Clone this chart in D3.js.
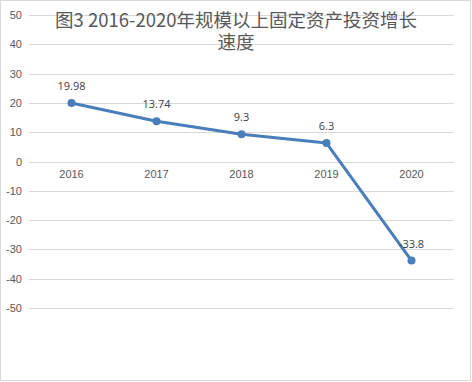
<!DOCTYPE html>
<html lang="zh">
<head>
<meta charset="UTF-8">
<title>图3 2016-2020年规模以上固定资产投资增长速度</title>
<style>
  body { margin: 0; padding: 0; background: #fff; }
  svg { display: block; font-family: "Open Sans", "Liberation Sans", Arial, sans-serif; }
  .grid line { stroke: #d9d9d9; stroke-width: 1; }
  .tick text { fill: #595959; font-size: 11px; }
  .label { fill: #404040; font-size: 11px; }
</style>
<script src="https://d3js.org/d3.v7.min.js"></script>
</head>
<body>
<div id="chart"></div>
<script>
const years = ["2016", "2017", "2018", "2019", "2020"];
const growth = [19.98, 13.74, 9.3, 6.3, -33.8];
const yTicks = [50, 40, 30, 20, 10, 0, -10, -20, -30, -40, -50];
const titleLines = ["图3 2016-2020年规模以上固定资产投资增长", "速度"];

const width = 472, height = 382;
const svg = d3.select("#chart").append("svg")
  .attr("width", width).attr("height", height);

// chart area border
svg.append("rect")
  .attr("x", 0.5).attr("y", 0.5)
  .attr("width", width - 2).attr("height", height - 2)
  .attr("fill", "#fff").attr("stroke", "#d9d9d9");

const x = d3.scaleBand().domain(years).range([29, 454]);
const y = d3.scaleLinear().domain([-50, 50]).range([308, 15]);

// gridlines
const grid = svg.append("g").attr("class", "grid");
grid.selectAll("line").data(yTicks).join("line")
  .attr("x1", 29).attr("x2", 454)
  .attr("y1", d => Math.round(y(d)) + 0.5)
  .attr("y2", d => Math.round(y(d)) + 0.5);

// y axis labels, plain hyphen for negatives like the original
const yAxis = svg.append("g")
  .attr("transform", "translate(29,0)")
  .call(d3.axisLeft(y).tickValues(yTicks).tickSize(0).tickPadding(7)
    .tickFormat(d => String(d)));
yAxis.select(".domain").remove();

// x axis labels (below the zero line)
const xAxis = svg.append("g")
  .attr("transform", `translate(0,${y(0) + 9})`)
  .call(d3.axisBottom(x).tickSize(0).tickPadding(0));
xAxis.select(".domain").remove();

// line
const line = d3.line()
  .x((d, i) => x(years[i]) + x.bandwidth() / 2)
  .y(d => y(d));
svg.append("path")
  .datum(growth)
  .attr("fill", "none")
  .attr("stroke", "#4a7ebb")
  .attr("stroke-width", 3)
  .attr("stroke-linejoin", "round")
  .attr("d", line);

svg.selectAll(".dot").data(growth).join("circle")
  .attr("class", "dot")
  .attr("cx", (d, i) => x(years[i]) + x.bandwidth() / 2)
  .attr("cy", d => y(d))
  .attr("r", 4)
  .attr("fill", "#4a7ebb");

svg.selectAll(".label").data(growth).join("text")
  .attr("class", "label")
  .attr("x", (d, i) => x(years[i]) + x.bandwidth() / 2)
  .attr("y", d => y(d) - 13)
  .attr("text-anchor", "middle")
  .text(d => String(d));

// title, two lines
svg.selectAll(".title").data(titleLines).join("text")
  .attr("class", "title")
  .attr("x", 236)
  .attr("y", (d, i) => 27 + i * 22)
  .attr("text-anchor", "middle")
  .attr("fill", "#595959")
  .style("font-family", "'Noto Sans CJK SC', sans-serif")
  .style("font-size", "18.5px")
  .text(d => d);
</script>
</body>
</html>
